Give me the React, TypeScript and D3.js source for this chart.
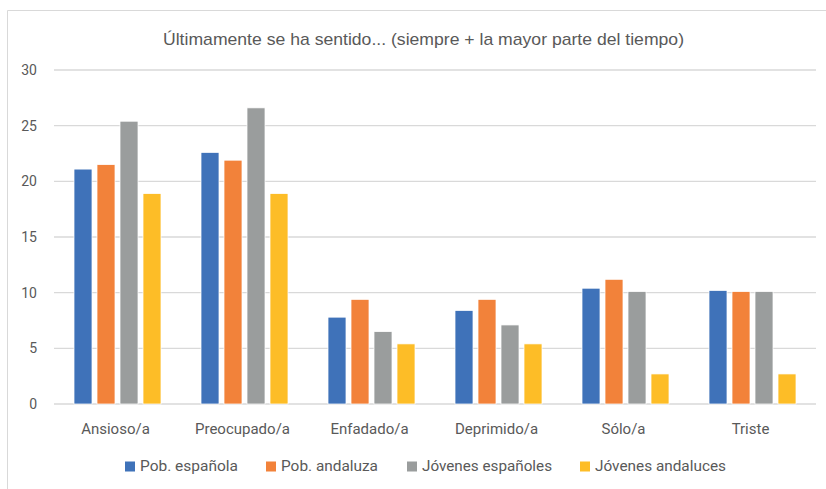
import React, { useRef, useEffect } from 'react';
import * as d3 from 'd3';

const categories = ['Ansioso/a', 'Preocupado/a', 'Enfadado/a', 'Deprimido/a', 'Sólo/a', 'Triste'];
const seriesNames = ['Pob. española', 'Pob. andaluza', 'Jóvenes españoles', 'Jóvenes andaluces'];
const pobEspanola = [21.1, 22.6, 7.8, 8.4, 10.4, 10.2];
const pobAndaluza = [21.5, 21.9, 9.4, 9.4, 11.2, 10.1];
const jovenesEspanoles = [25.4, 26.6, 6.5, 7.1, 10.1, 10.1];
const jovenesAndaluces = [18.9, 18.9, 5.4, 5.4, 2.7, 2.7];
const yTicks = [0, 5, 10, 15, 20, 25, 30];
const colors = ['#3f72b9', '#f2823a', '#9a9d9d', '#fdbd27'];

const W = 826;
const H = 489;
const FONT = 'Roboto, "Liberation Sans", sans-serif';
const TITLE_FONT = '"Liberation Sans", Arial, sans-serif';

export default function App() {
  const svgRef = useRef<SVGSVGElement>(null);

  useEffect(() => {
    const svg = d3.select(svgRef.current);
    svg.selectAll('*').remove();

    const values = [pobEspanola, pobAndaluza, jovenesEspanoles, jovenesAndaluces];
    const margin = { top: 70, right: 10, bottom: 85, left: 54 };

    svg.append('rect').attr('width', W).attr('height', H).attr('fill', '#fff');

    // chart border (only left and top visible)
    svg.append('path')
      .attr('d', `M7.5,${H} L7.5,10.5 L${W},10.5`)
      .attr('fill', 'none')
      .attr('stroke', '#d9d9d9')
      .attr('stroke-width', 1);

    const x0 = d3.scaleBand<string>()
      .domain(categories)
      .range([margin.left, W - margin.right]);

    const x1 = d3.scaleBand<string>()
      .domain(seriesNames)
      .range([20, 107])
      .paddingInner(5 / 23);

    const y = d3.scaleLinear().domain([0, 30]).range([404, 70]);

    // gridlines
    yTicks.forEach(t => {
      svg.append('line')
        .attr('x1', margin.left)
        .attr('x2', W - margin.right)
        .attr('y1', y(t))
        .attr('y2', y(t))
        .attr('stroke', '#d9d9d9')
        .attr('stroke-width', 1.3);
      svg.append('text')
        .attr('x', 37)
        .attr('y', y(t))
        .attr('text-anchor', 'end')
        .attr('dominant-baseline', 'central')
        .attr('font-family', FONT)
        .attr('font-size', 14)
        .attr('fill', '#595959')
        .text(t);
    });

    // bars
    categories.forEach((c, i) => {
      const g = svg.append('g').attr('transform', `translate(${x0(c)},0)`);
      seriesNames.forEach((s, j) => {
        const v = values[j][i];
        g.append('rect')
          .attr('x', x1(s)!)
          .attr('y', y(v))
          .attr('width', x1.bandwidth())
          .attr('height', y(0) - y(v))
          .attr('fill', colors[j])
          .attr('stroke', '#fff')
          .attr('stroke-width', 0.75);
      });
      svg.append('text')
        .attr('x', x0(c)! + x0.bandwidth() / 2 - 2)
        .attr('y', 429)
        .attr('text-anchor', 'middle')
        .attr('dominant-baseline', 'central')
        .attr('font-family', FONT)
        .attr('font-size', 15)
        .attr('fill', '#595959')
        .text(c);
    });

    // title
    svg.append('text')
      .attr('x', 163)
      .attr('y', 39)
      .attr('dominant-baseline', 'central')
      .attr('font-family', TITLE_FONT)
      .attr('font-size', 17)
      .attr('textLength', 521)
      .attr('lengthAdjust', 'spacingAndGlyphs')
      .attr('fill', '#595959')
      .text('Últimamente se ha sentido... (siempre + la mayor parte del tiempo)');

    // legend
    const legendX = [125, 266, 407, 580];
    const legendW = [98, 97, 130, 131];
    seriesNames.forEach((s, j) => {
      svg.append('rect')
        .attr('x', legendX[j])
        .attr('y', 461.5)
        .attr('width', 10)
        .attr('height', 10)
        .attr('fill', colors[j]);
      svg.append('text')
        .attr('x', legendX[j] + 15)
        .attr('y', 466)
        .attr('dominant-baseline', 'central')
        .attr('font-family', FONT)
        .attr('font-size', 15)
        .attr('textLength', legendW[j])
        .attr('lengthAdjust', 'spacingAndGlyphs')
        .attr('fill', '#595959')
        .text(s);
    });
  }, []);

  return (
    <div style={{ position: 'absolute', left: 0, top: 0 }}>
      <svg ref={svgRef} width={W} height={H} />
    </div>
  );
}
